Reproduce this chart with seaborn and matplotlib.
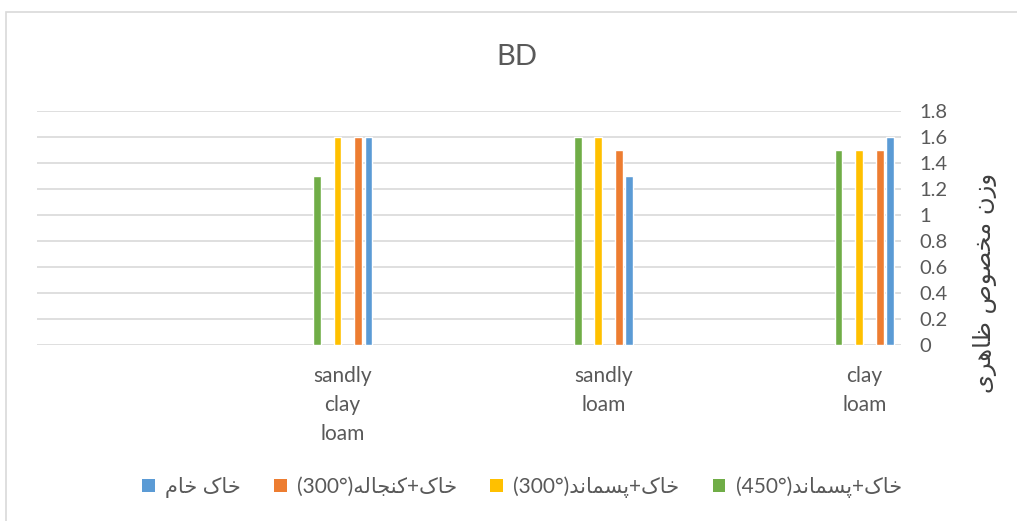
import pandas as pd
import matplotlib.pyplot as plt
import seaborn as sns
from matplotlib.patches import Patch, Rectangle
from matplotlib.ticker import FuncFormatter, MultipleLocator

# --- data ---
soils = ["sandly\nclay\nloam", "sandly\nloam", "clay\nloam"]
series = ["خاک+پسماند(°450)", "خاک+پسماند(°300)", "خاک+کنجاله(°300)", "خاک خام"]
persian_names = ["خاک+پسماند", "خاک+پسماند", "خاک+کنجاله", "خاک خام"]
temps = ["(450°)", "(300°)", "(300°)", ""]
bd_450 = [1.3, 1.6, 1.5]
bd_300_waste = [1.6, 1.6, 1.5]
bd_300_meal = [1.6, 1.5, 1.5]
bd_raw = [1.6, 1.3, 1.6]
colors = ["#70AD47", "#FFC000", "#ED7D31", "#5B9BD5"]
y_title = "وزن مخصوص ظاهری"

# matplotlib does no arabic shaping -> use presentation forms (iso, final, init, medial)
FORMS = {
    'ا': '\uFE8D\uFE8E', 'د': '\uFEA9\uFEAA', 'ر': '\uFEAD\uFEAE',
    'ز': '\uFEAF\uFEB0', 'و': '\uFEED\uFEEE',
    'خ': '\uFEA5\uFEA6\uFEA7\uFEA8', 'ک': '\uFB8E\uFB8F\uFB90\uFB91',
    'م': '\uFEE1\uFEE2\uFEE3\uFEE4', 'پ': '\uFB56\uFB57\uFB58\uFB59',
    'س': '\uFEB1\uFEB2\uFEB3\uFEB4', 'ن': '\uFEE5\uFEE6\uFEE7\uFEE8',
    'ج': '\uFE9D\uFE9E\uFE9F\uFEA0', 'ل': '\uFEDD\uFEDE\uFEDF\uFEE0',
    'ه': '\uFEE9\uFEEA\uFEEB\uFEEC', 'ص': '\uFEB9\uFEBA\uFEBB\uFEBC',
    'ظ': '\uFEC5\uFEC6\uFEC7\uFEC8', 'ی': '\uFBFC\uFBFD\uFBFE\uFBFF',
}


def fa(text):
    out = []
    for i, ch in enumerate(text):
        f = FORMS.get(ch)
        if f is None:
            out.append(ch)
            continue
        prev = text[i - 1] if i > 0 else ''
        nxt = text[i + 1] if i + 1 < len(text) else ''
        join_prev = prev in FORMS and len(FORMS[prev]) == 4
        join_next = len(f) == 4 and nxt in FORMS
        out.append(f[int(join_prev) + 2 * int(join_next)])
    return ''.join(out)[::-1]


rows = []
for s, vals in zip(series, [bd_450, bd_300_waste, bd_300_meal, bd_raw]):
    for soil, v in zip(soils, vals):
        rows.append({'soil': soil, 'series': s, 'bd': v})
df = pd.DataFrame(rows)

# two empty slots, like in the original excel chart
hue_order = [series[0], "_e1", series[1], "_e2", series[2], series[3]]
palette = dict(zip(series, colors))
palette["_e1"] = "white"
palette["_e2"] = "white"

sns.set_theme(style="white")
plt.rcParams['font.family'] = ['Lato', 'DejaVu Sans']
gray = "#595959"

fig = plt.figure(figsize=(10.17, 5.21), dpi=100)
ax = fig.add_axes([37 / 1017, 1 - 345 / 521, 864 / 1017, 234 / 521])

sns.barplot(data=df, x='soil', y='bd', hue='series', hue_order=hue_order,
            order=soils, palette=palette, width=0.237, gap=0.25,
            legend=False, ax=ax, saturation=1)

ax.set_xlim(-1.172, 2.141)
ax.set_ylim(0, 1.8)
ax.yaxis.set_major_locator(MultipleLocator(0.2))
ax.yaxis.set_major_formatter(FuncFormatter(lambda v, p: f"{v:g}"))
ax.yaxis.tick_right()
ax.yaxis.grid(True, color="#d9d9d9", linewidth=1.2)
ax.set_axisbelow(True)
for sp in ax.spines.values():
    sp.set_visible(False)
ax.tick_params(axis='y', length=0, pad=13, labelsize=14.5, labelcolor=gray)
ax.tick_params(axis='x', length=0, pad=15, labelsize=15, labelcolor=gray)
for t in ax.get_xticklabels():
    t.set_linespacing(1.58)
ax.set_xlabel('')
ax.set_ylabel('')

fig.text(517 / 1017, 1 - 57 / 521, "BD", ha='center', va='center',
         fontsize=21, color=gray)
fig.text(985 / 1017, 1 - 283 / 521, fa(y_title), rotation=90, ha='center',
         va='center', fontsize=17.5, color="#404040", family=['DejaVu Sans'])

# legend left to right like the picture
handles = [Patch(facecolor=c, edgecolor='none') for c in colors[::-1]]
labels = [t + fa(n) for n, t in zip(persian_names, temps)][::-1]
fig.legend(handles, labels, loc='center', ncol=4,
           bbox_to_anchor=(522 / 1017, 1 - 487 / 521), frameon=False,
           fontsize=15, labelcolor=gray, handlelength=0.6,
           handleheight=0.6, handletextpad=0.5, columnspacing=1.6)

fig.patches.append(Rectangle((6 / 1017, -0.05), 1.1, 1.05 - 12 / 521,
                             transform=fig.transFigure, fill=False,
                             edgecolor="#d9d9d9", linewidth=1.2))

fig.savefig("out.png", dpi=100)
